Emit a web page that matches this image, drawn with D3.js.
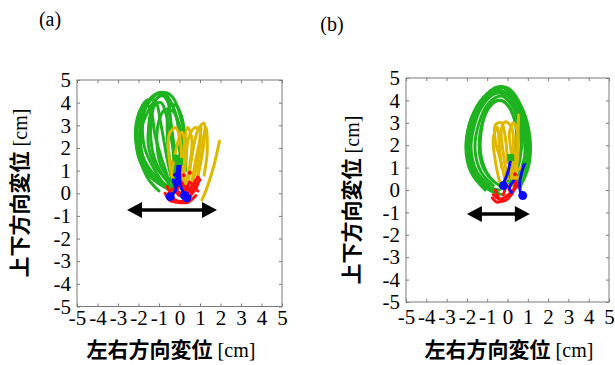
<!DOCTYPE html>
<html>
<head>
<meta charset="utf-8">
<script src="https://cdn.jsdelivr.net/npm/d3@7"></script>
<style>
  body { margin: 0; background: #fff; }
</style>
</head>
<body>
<svg id="chart" width="615" height="365"></svg>
<script>
// axis ticks and labels
const tickValues = [-5, -4, -3, -2, -1, 0, 1, 2, 3, 4, 5];
const panelLabels = ['(a)', '(b)'];
const xTitle = '左右方向変位';
const yTitle = '上下方向変位';
const unitLabel = '[cm]';

// panel (a) trajectories, [x, y] in cm
const greenA = [
  [[-0.2, 0.2], [0.0, 1.2], [0.0, 2.5], [-0.3, 3.8], [-0.8, 4.45], [-1.3, 4.3], [-1.8, 3.6], [-2.1, 2.6], [-2.0, 1.6], [-1.5, 0.8], [-0.8, 0.3], [-0.2, 0.1]],
  [[-0.1, 0.3], [-0.2, 1.5], [-0.4, 3.0], [-0.6, 4.1], [-1.0, 4.4], [-1.5, 4.0], [-1.9, 3.0], [-1.9, 1.9], [-1.4, 1.0], [-0.7, 0.4], [-0.1, 0.2]],
  [[0.0, 0.5], [0.1, 1.8], [-0.1, 3.2], [-0.5, 4.1], [-0.9, 4.3], [-1.3, 3.9], [-1.5, 3.0], [-1.5, 2.0], [-1.1, 1.1], [-0.5, 0.5]],
  [[-0.3, 0.3], [-0.6, 1.5], [-0.9, 3.0], [-1.2, 4.1], [-1.6, 4.1], [-2.0, 3.4], [-2.1, 2.3], [-1.7, 1.2], [-1.0, 0.5], [-0.4, 0.2]],
  [[0.1, 0.8], [0.2, 2.0], [0.0, 3.0], [-0.3, 3.6], [-0.7, 3.7], [-1.0, 3.2], [-1.1, 2.2], [-0.9, 1.2], [-0.4, 0.5]],
  [[-0.2, 0.4], [-0.3, 1.8], [-0.6, 3.3], [-0.9, 4.0], [-1.2, 3.9], [-1.4, 3.0], [-1.3, 1.8], [-0.9, 0.9], [-0.4, 0.3]],
  [[0.3, 1.0], [0.3, 2.2], [0.1, 3.2], [-0.3, 4.2], [-0.7, 4.45], [-1.1, 4.2], [-1.6, 3.5], [-1.9, 2.6], [-1.7, 1.4], [-1.1, 0.6], [-0.5, 0.2]],
  [[-0.3, 1.5], [-0.1, 2.2], [0.1, 1.4], [0.2, 0.6]],
  [[-0.6, 0.2], [-1.2, 1.0], [-1.7, 2.0], [-1.8, 3.1], [-1.6, 3.9], [-1.4, 3.7], [-1.2, 2.6], [-0.9, 1.6], [-0.6, 0.8]],
  [[-1.0, 0.1], [-1.5, 0.6], [-1.9, 1.4], [-2.15, 2.5], [-2.0, 3.5], [-1.7, 4.0]],
  [[0.2, 1.3], [0.25, 2.4], [0.1, 3.4], [-0.2, 3.9], [-0.5, 3.8], [-0.6, 2.8], [-0.5, 1.6], [-0.3, 0.9]]
];
const yellowA = [
  [[0.0, 0.2], [0.1, 1.5], [0.0, 2.5], [-0.2, 2.9], [-0.5, 2.6], [-0.5, 1.5], [-0.3, 0.6], [0.0, 0.3]],
  [[0.2, 0.3], [0.3, 1.5], [0.5, 2.6], [0.8, 2.9], [1.0, 2.7], [0.9, 1.6], [0.7, 0.7], [0.5, 0.3]],
  [[0.4, 0.2], [0.6, 1.6], [0.9, 2.8], [1.2, 3.1], [1.2, 2.3], [1.0, 1.2], [0.8, 0.4]],
  [[1.1, -0.3], [1.4, 0.4], [1.7, 1.3], [1.95, 2.3]],
  [[0.1, 0.5], [0.2, 1.8], [0.4, 2.9], [0.6, 2.4], [0.5, 1.2], [0.3, 0.4]],
  [[-0.4, 0.8], [-0.2, 1.8], [0.1, 2.7], [0.3, 2.0], [0.2, 1.0]],
  [[0.8, 0.3], [1.0, 1.3], [1.2, 2.6], [1.3, 2.9], [1.35, 1.8], [1.2, 0.8]],
  [[0.6, 0.5], [0.8, 1.5], [1.0, 2.4], [1.05, 2.9], [0.95, 2.0], [0.8, 1.0]]
];
const redA = [
  [[-0.6, -0.1], [-0.3, 0.2], [0.0, -0.1], [0.3, 0.3], [0.6, 0.0], [0.9, 0.4]],
  [[-0.5, 0.1], [-0.2, -0.3], [0.2, -0.35], [0.5, -0.2], [0.7, 0.2], [0.9, 0.1]],
  [[-0.1, 0.2], [0.1, 0.5], [0.3, 0.1], [0.5, 0.5], [0.7, 0.3], [1.0, 0.6]],
  [[-0.7, 0.0], [-0.5, -0.3], [-0.1, -0.4], [0.4, -0.4], [0.8, -0.1]],
  [[-0.6, 0.3], [-0.4, 0.0], [-0.1, 0.1], [0.2, -0.2], [0.6, 0.3], [0.8, 0.6]]
];
const blueA = [
  [[-0.05, 1.5], [-0.1, 1.0], [-0.15, 0.5], [-0.2, 0.1], [-0.45, -0.15]],
  [[0.05, 1.3], [0.0, 0.7], [0.1, 0.2], [0.35, -0.15]],
  [[-0.25, 0.8], [-0.05, 0.9], [0.0, 0.5], [-0.2, 0.3], [-0.3, 0.6]]
];
const blueDotsA = [[-0.45, -0.15], [0.35, -0.2], [0.25, -0.1]];
const redDotsA = [[0.5, 0.9], [0.9, 0.7], [0.2, 0.8]];
const greenSquaresA = [[0.0, 1.4], [-0.15, 1.55]];
const arrowA = [[-2.56, -0.74], [1.83, -0.74]];

// panel (b) trajectories
const greenB = [
  [[0.3, 0.0], [0.9, 1.0], [1.0, 2.2], [0.6, 3.6], [0.0, 4.55], [-0.6, 4.5], [-1.3, 3.9], [-1.9, 2.8], [-2.0, 1.6], [-1.6, 0.6], [-0.9, 0.0], [-0.3, -0.2]],
  [[0.2, 0.2], [0.8, 1.2], [0.8, 2.5], [0.4, 3.8], [-0.2, 4.4], [-0.9, 4.2], [-1.5, 3.4], [-1.9, 2.2], [-1.7, 1.0], [-1.1, 0.2], [-0.4, 0.0]],
  [[0.1, 0.3], [0.6, 1.3], [0.6, 2.7], [0.2, 3.8], [-0.3, 4.2], [-0.9, 3.9], [-1.4, 3.0], [-1.6, 1.8], [-1.3, 0.8], [-0.7, 0.2]],
  [[0.4, 0.3], [1.0, 1.4], [0.9, 2.8], [0.4, 4.0], [-0.3, 4.6], [-1.0, 4.3], [-1.7, 3.4], [-2.0, 2.3], [-1.8, 1.1], [-1.2, 0.3], [-0.5, -0.1]],
  [[0.0, 0.4], [0.4, 1.6], [0.4, 2.9], [0.0, 3.8], [-0.5, 4.0], [-1.0, 3.6], [-1.3, 2.6], [-1.3, 1.5], [-0.9, 0.6], [-0.4, 0.2]],
  [[0.5, 0.5], [0.9, 1.8], [0.7, 3.1], [0.2, 4.1], [-0.4, 4.45], [-1.1, 4.1], [-1.6, 3.0], [-1.8, 1.9], [-1.5, 0.8], [-0.9, 0.2]],
  [[0.3, 0.6], [0.7, 2.0], [0.5, 3.3], [0.0, 4.2], [-0.6, 4.3], [-1.2, 3.8], [-1.7, 2.7], [-1.8, 1.4], [-1.3, 0.4], [-0.6, 0.0]],
  [[0.2, 0.8], [0.5, 2.2], [0.2, 3.5], [-0.3, 4.0], [-0.8, 3.8], [-1.2, 3.1], [-1.4, 2.0], [-1.2, 1.0], [-0.7, 0.4]],
  [[0.6, 0.1], [1.05, 1.1], [1.1, 2.4], [0.7, 3.7], [0.1, 4.5], [-0.5, 4.6], [-1.2, 4.1], [-1.8, 3.1], [-2.05, 1.9], [-1.8, 0.8], [-1.1, 0.0]]
];
const yellowB = [
  [[-0.1, 0.3], [-0.3, 1.2], [-0.6, 2.2], [-0.6, 2.9], [-0.3, 3.0], [-0.1, 2.3], [0.0, 1.2]],
  [[0.0, 0.5], [-0.2, 1.6], [-0.3, 2.7], [-0.1, 3.05], [0.2, 2.8], [0.3, 1.8], [0.2, 0.8]],
  [[0.3, 0.2], [0.4, 1.2], [0.5, 2.3], [0.55, 3.35]],
  [[-0.4, 0.4], [-0.6, 1.3], [-0.7, 2.3], [-0.5, 2.8], [-0.4, 2.0], [-0.3, 1.0]],
  [[0.2, 0.5], [0.2, 1.5], [0.1, 2.6], [0.3, 3.0], [0.5, 2.6], [0.5, 1.5], [0.4, 0.6]],
  [[0.5, 0.9], [0.7, 1.0], [0.6, 0.6], [0.4, 0.5]]
];
const redB = [
  [[-0.7, -0.2], [-0.4, -0.4], [-0.1, -0.3], [0.2, -0.1], [0.5, 0.2]],
  [[-0.6, 0.0], [-0.3, -0.5], [0.0, -0.4], [0.3, 0.0], [0.4, 0.4]],
  [[-0.2, -0.2], [0.0, 0.2], [0.2, -0.2], [0.45, 0.3], [0.6, 0.1]],
  [[-0.75, -0.35], [-0.5, -0.55], [-0.2, -0.45]]
];
const blueB = [
  [[0.15, 1.35], [0.05, 0.9], [-0.1, 0.5], [-0.3, 0.1]],
  [[0.9, 1.3], [0.7, 0.8], [0.6, 0.3], [0.65, -0.2]],
  [[0.3, 0.4], [0.1, 0.1], [0.2, -0.1]]
];
const blueDotsB = [[0.75, -0.25], [-0.2, 0.2]];
const redDotsB = [[0.37, 0.7]];
const greenSquaresB = [[0.15, 1.45], [0.95, 1.35]];
const arrowB = [[-2.0, -1.07], [1.1, -1.07]];

const colors = { green: '#1fb31f', yellow: '#dfb800', red: '#ff1010', blue: '#0a0aff' };

const panels = [
  { label: panelLabels[0], labelX: 50, labelY: 26, box: { l: 77, r: 282, t: 80, b: 306.5 },
    xPad: 4, titleX: 171, yTitleX: 20, yTitleY: 193,
    green: greenA, yellow: yellowA, red: redA, blue: blueA,
    blueDots: blueDotsA, redDots: redDotsA, squares: greenSquaresA, arrow: arrowA },
  { label: panelLabels[1], labelX: 332, labelY: 31, box: { l: 406, r: 609, t: 78, b: 302 },
    xPad: 7, titleX: 509, yTitleX: 352, yTitleY: 200,
    green: greenB, yellow: yellowB, red: redB, blue: blueB,
    blueDots: blueDotsB, redDots: redDotsB, squares: greenSquaresB, arrow: arrowB }
];

const svg = d3.select('#chart');
const serif = '"Liberation Serif", "Times New Roman", serif';
const cjk = '"Noto Sans CJK JP", sans-serif';

function drawPanel(p) {
  const x = d3.scaleLinear().domain([-5, 5]).range([p.box.l, p.box.r]);
  const y = d3.scaleLinear().domain([-5, 5]).range([p.box.b, p.box.t]);
  const fmt = d => String(d);

  svg.append('text')
    .attr('x', p.labelX).attr('y', p.labelY)
    .attr('text-anchor', 'middle')
    .style('font-family', serif).style('font-size', '20px')
    .text(p.label);

  // frame
  svg.append('rect')
    .attr('x', p.box.l).attr('y', p.box.t)
    .attr('width', p.box.r - p.box.l).attr('height', p.box.b - p.box.t)
    .attr('fill', 'none').attr('stroke', '#7a7a7a').attr('stroke-width', 1);

  const axes = [
    { gen: d3.axisBottom(x).tickPadding(p.xPad).tickFormat(fmt), tr: `translate(0,${p.box.b})` },
    { gen: d3.axisTop(x).tickFormat(''), tr: `translate(0,${p.box.t})` },
    { gen: d3.axisLeft(y).tickPadding(6).tickFormat(fmt), tr: `translate(${p.box.l},0)` },
    { gen: d3.axisRight(y).tickFormat(''), tr: `translate(${p.box.r},0)` }
  ];
  axes.forEach(a => {
    const g = svg.append('g')
      .attr('transform', a.tr)
      .call(a.gen.tickValues(tickValues).tickSizeInner(-3).tickSizeOuter(0));
    g.select('.domain').remove();
    g.selectAll('line').attr('stroke', '#7a7a7a');
    g.selectAll('text')
      .attr('fill', '#000')
      .style('font-family', serif)
      .style('font-size', '21px');
  });

  const line = d3.line()
    .x(d => x(d[0])).y(d => y(d[1]))
    .curve(d3.curveCatmullRom.alpha(0.5));

  const plot = svg.append('g');
  [['green', p.green], ['yellow', p.yellow], ['red', p.red], ['blue', p.blue]].forEach(([c, set]) => {
    plot.append('g').selectAll('path')
      .data(set)
      .join('path')
      .attr('d', line)
      .attr('fill', 'none')
      .attr('stroke', colors[c])
      .attr('stroke-width', 3)
      .attr('stroke-linejoin', 'round')
      .attr('stroke-linecap', 'round');
  });

  plot.append('g').selectAll('rect')
    .data(p.squares)
    .join('rect')
    .attr('x', d => x(d[0]) - 3.5).attr('y', d => y(d[1]) - 3.5)
    .attr('width', 7).attr('height', 7)
    .attr('fill', colors.green);
  plot.append('g').selectAll('circle.r')
    .data(p.redDots)
    .join('circle')
    .attr('cx', d => x(d[0])).attr('cy', d => y(d[1])).attr('r', 2)
    .attr('fill', colors.red);
  plot.append('g').selectAll('circle.b')
    .data(p.blueDots)
    .join('circle')
    .attr('cx', d => x(d[0])).attr('cy', d => y(d[1])).attr('r', 4.5)
    .attr('fill', colors.blue);

  // double-headed arrow
  const [a0, a1] = p.arrow;
  const x0 = x(a0[0]), x1 = x(a1[0]), ay = y(a0[1]);
  const head = 15, half = 8;
  svg.append('line')
    .attr('x1', x0 + head - 2).attr('x2', x1 - head + 2)
    .attr('y1', ay).attr('y2', ay)
    .attr('stroke', '#000').attr('stroke-width', 3.5);
  svg.append('path')
    .attr('d', `M${x0},${ay}L${x0 + head},${ay - half}L${x0 + head},${ay + half}Z` +
               `M${x1},${ay}L${x1 - head},${ay - half}L${x1 - head},${ay + half}Z`)
    .attr('fill', '#000');

  // axis titles
  const xt = svg.append('text')
    .attr('x', p.titleX).attr('y', 357)
    .attr('text-anchor', 'middle');
  xt.append('tspan').style('font-family', cjk).style('font-size', '21px').style('font-weight', 700).text(xTitle);
  xt.append('tspan').style('font-family', serif).style('font-size', '20px').text(' ' + unitLabel);

  const yt = svg.append('text')
    .attr('transform', `translate(${p.yTitleX + 7},${p.yTitleY}) rotate(-90)`)
    .attr('text-anchor', 'middle');
  yt.append('tspan').style('font-family', cjk).style('font-size', '21px').style('font-weight', 700).text(yTitle);
  yt.append('tspan').style('font-family', serif).style('font-size', '20px').text(' ' + unitLabel);
}

panels.forEach(drawPanel);
</script>
</body>
</html>
